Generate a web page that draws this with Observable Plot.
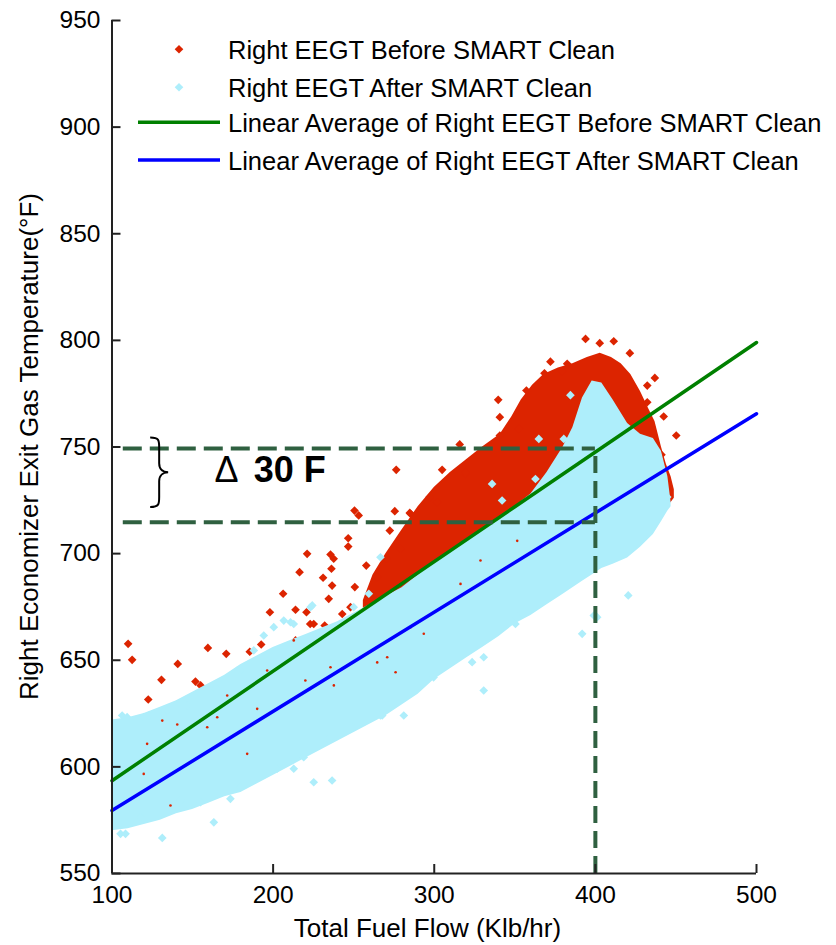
<!DOCTYPE html>
<html>
<head>
<meta charset="utf-8">
<script src="https://cdn.jsdelivr.net/npm/d3@7"></script>
<script src="https://cdn.jsdelivr.net/npm/@observablehq/plot@0.6"></script>
<style>
  body { margin: 0; background: #fff; }
  #chart { width: 836px; height: 945px; }
</style>
</head>
<body>
<div id="chart"></div>
<script>
// ---------------- data ----------------
const xTicks = [100, 200, 300, 400, 500];
const yTicks = [550, 600, 650, 700, 750, 800, 850, 900, 950];
const seriesNames = [
  "Right EEGT Before SMART Clean",
  "Right EEGT After SMART Clean",
  "Linear Average of Right EEGT Before SMART Clean",
  "Linear Average of Right EEGT After SMART Clean"
];
const xLabel = "Total Fuel Flow (Klb/hr)";
const yLabel = "Right Economizer Exit Gas Temperature(\u00B0F)";

// linear averages (end points)
const fitX = [100, 500];
const fitBeforeY = [593.5, 799.0];
const fitAfterY = [579.5, 765.6];

// dense core of "after" cloud (envelope)
const afterCoreX  = [100,110,120,130,140,150,160,170,180,190,200,210,220,230,240,250,260,270,280,290,300,310,320,330,340,350,360,370,380,386,392,398,404,411,420,428,436,441,445,447];
const afterCoreHi = [622,623,625,628,631,635,639,643,648,652,656,659,662,665,668,672,676,680,684,690,696,701,706,711,716,722,728,738,750,759,773,781,780,772,761,756,754,748,736,724];
const afterCoreLo = [570,571,573,575,578,580,583,586,588,592,596,600,604,608,612,616,620,624,629,634,641,646,651,656,661,667,671,676,681,684,687,690,693,695,698,703,709,715,720,722];

// dense core of "before" cloud
const beforeCoreX  = [256,262,270,279,290,300,310,320,330,341,348,354,361,368,377,386,395,403,410,416,422,428,433,437,441,444,447,449];
const beforeCoreHi = [678,690,700,710,722,731,738,744,750,756,764,772,779,784,787,789,792,794,792,789,784,776,768,762,750,742,736,730];
const beforeCoreLo = [655,660,665,668,672,676,682,688,694,700,705,708,712,716,720,724,728,732,730,728,726,724,722,722,722,722,724,726];

// individual "before" points
const beforePtsX = [110.0,112.5,122.5,130.7,140.8,151.8,155.0,157.4,159.5,170.9,185.5,192.6,198.0,206.2,213.9,166.3,148.3,220.7,223.0,232.0,248.0,254.0,
  276.4,250.5,253.1,275.5,285.3,272.4,246.6,246.6,221.1,235.6,237.6,257.8,216.4,231.0,236.2,250.7,236.6,234.5,264.6,279.0,270.5,
  304.9,319.4,213.9,225.2,242.9,253.2,229.4,235.6,
  393.9,402.7,411.4,421.4,372.1,382.5,368.4,379.4,357.2,339.7,340.7,340.7,352.5,436.9,432.2,442.4,450.2,432.2,441.0,443.5,435.3,315.8,301.8,297.2,319.4,284.8];
const beforePtsY = [657.7,650.2,631.6,640.8,648.3,640.0,638.2,630.8,655.8,653.0,654.0,657.4,672.5,681.2,673.7,615.5,622.5,672.5,667.0,666.3,674.9,666.3,
  739.3,720.2,717.9,719.9,718.7,710.8,707.2,703.3,699.9,699.6,697.6,694.4,691.3,688.7,692.9,684.3,685.0,678.8,689.0,702.3,697.6,
  739.3,737.4,659.3,667.0,671.7,664.0,657.7,648.3,
  800.7,798.7,799.6,794.0,790.0,789.0,784.6,785.5,776.5,772.1,764.0,755.4,758.5,782.4,778.8,764.3,755.4,771.0,746.4,733.5,724.9,751.2,724.1,726.5,738.2,719.1];

// "before" points mostly hidden under the after cloud (only specks show)
const beforeSpeckX = [131.2,140.5,147.7,165.3,171.5,190.1,183.9,136.3,196.3,212.8,119.7,159.1,121.8,235.6,220.0,237.7,270.8,276.0,264.6,293.5,285.3,351.5,316.3,328.7];
const beforeSpeckY = [621.7,619.9,628.8,623.3,633.5,627.2,606.1,581.9,645.2,659.3,596.7,618.6,610.8,646.7,640.5,638.2,651.4,644.4,649.0,662.4,665.5,706.0,685.8,696.8];

// individual "after" points
const afterPtsX = [131.2,163.2,225.2,236.6,281.1,212.8,266.6,164.4,133.2,119.7,223.2,206.6,330.7,391.8,330.7,323.5,399.0,420.4,401.1,350.4,444.6,
  364.9,380.4,384.5,362.8,342.1,335.9,350.4,
  266.6,259.4,250.0,241.8,224.3,212.8,281.1,194.2,200.4,210.8,177.7,109.4,132.2,105.3,351.5,299.6,
  108.4,117.7,142.5,154.9,173.5,179.7,202.5,219.0,234.5,267.7,250.0,
  106.3,122.8,134.3,146.7,179.7,188.0];
const afterPtsY = [566.7,574.0,592.8,593.6,624.1,599.1,624.1,636.6,626.4,623.3,674.9,668.6,635.8,662.4,651.4,649.1,671.0,680.4,670.2,667.0,726.5,
  753.8,753.8,774.3,735.0,724.9,732.7,719.4,
  698.3,681.2,674.9,667.0,675.7,667.0,666.3,661.6,665.5,667.8,645.2,623.3,624.9,568.6,670.2,642.0,
  568.6,576.4,584.2,583.4,585.0,590.5,599.1,604.5,613.2,624.1,618.6,
  624.1,624.1,626.4,628.8,645.2,654.6];

// reference guides
const guideStartX = 107;
const guideLevels = [749.3, 714.7];
const guideX = 400;
const braceTop = 754.2, braceBottom = 721.6, braceX = 124;
const annotDelta = {x: 171, y: 739, text: "\u0394"};
const annotValue = {x: 188, y: 739, text: "30 F"};

// ---------------- styles ----------------
const RED = "#dc2400";
const LIGHT = "#aeeefb";
const GREEN = "#008000";
const BLUE = "#0000ff";
const GUIDE = "#2f6040";
const AXIS = "#222";
const FONT = "'Liberation Sans', Arial, Helvetica, sans-serif";

const W = 836, H = 945, ML = 111.5, MR = 80, MT = 20, MB = 72, TICK = 9;
const xDomain = [xTicks[0], xTicks[xTicks.length - 1]];
const yDomain = [yTicks[0], yTicks[yTicks.length - 1]];
// tick length expressed in data units (from the layout)
const tickLenX = TICK * (xDomain[1] - xDomain[0]) / (W - ML - MR);
const tickLenY = TICK * (yDomain[1] - yDomain[0]) / (H - MT - MB);

const zip = (xs, ys) => xs.map((x, i) => ({x, y: ys[i]}));
const afterCore = afterCoreX.map((x, i) => ({x, lo: afterCoreLo[i], hi: afterCoreHi[i]}));
const beforeCore = beforeCoreX.map((x, i) => ({x, lo: beforeCoreLo[i], hi: beforeCoreHi[i]}));
const beforePts = zip(beforePtsX, beforePtsY);
const beforeSpecks = zip(beforeSpeckX, beforeSpeckY);
const afterPts = zip(afterPtsX, afterPtsY);
const fitBefore = zip(fitX, fitBeforeY);
const fitAfter = zip(fitX, fitAfterY);
const hGuides = guideLevels.map(y => ({y, x1: guideStartX, x2: guideX}));
const vGuides = [{x: guideX, y1: yDomain[0], y2: guideLevels[0]}];
const xTickMarks = xTicks.map(x => ({x, y1: yDomain[0], y2: yDomain[0] + tickLenY}));
const yTickMarks = yTicks.map(y => ({y, x1: xDomain[0], x2: xDomain[0] + tickLenX}));

const chart = Plot.plot({
  width: W,
  height: H,
  marginLeft: ML,
  marginRight: MR,
  marginTop: MT,
  marginBottom: MB,
  style: {fontFamily: FONT, fontSize: "24.5px", color: "#000", background: "#fff", overflow: "visible"},
  x: {domain: xDomain},
  y: {domain: yDomain},
  marks: [
    Plot.areaY(beforeCore, {x: "x", y1: "lo", y2: "hi", fill: RED}),
    Plot.dot(beforePts, {x: "x", y: "y", symbol: "diamond2", r: 3.9, fill: RED}),
    Plot.areaY(afterCore, {x: "x", y1: "lo", y2: "hi", fill: LIGHT}),
    Plot.dot(beforeSpecks, {x: "x", y: "y", r: 1.3, fill: RED}),
    Plot.dot(afterPts, {x: "x", y: "y", symbol: "diamond2", r: 3.9, fill: LIGHT}),
    Plot.line(fitBefore, {x: "x", y: "y", stroke: GREEN, strokeWidth: 3.5}),
    Plot.line(fitAfter, {x: "x", y: "y", stroke: BLUE, strokeWidth: 3.5}),
    Plot.ruleY(hGuides, {y: "y", x1: "x1", x2: "x2", stroke: GUIDE, strokeWidth: 4, strokeDasharray: "19,8"}),
    Plot.ruleX(vGuides, {x: "x", y1: "y1", y2: "y2", stroke: GUIDE, strokeWidth: 4, strokeDasharray: "17,8"}),
    // axis lines
    Plot.ruleX([{x: xDomain[0]}], {x: "x", stroke: AXIS, strokeWidth: 2}),
    Plot.ruleY([{y: yDomain[0]}], {y: "y", stroke: AXIS, strokeWidth: 2}),
    // inward tick marks
    Plot.ruleX(xTickMarks, {x: "x", y1: "y1", y2: "y2", stroke: AXIS, strokeWidth: 2}),
    Plot.ruleY(yTickMarks, {y: "y", x1: "x1", x2: "x2", stroke: AXIS, strokeWidth: 2}),
    Plot.axisX({ticks: xTicks, tickSize: 0, tickPadding: 12, label: null, fontSize: 24.5}),
    Plot.axisY({ticks: yTicks, tickSize: 0, tickPadding: 11.5, label: null, fontSize: 24.5}),
    Plot.text([annotDelta], {x: "x", y: "y", text: "text", fontSize: 36, fontWeight: "normal", fill: "#000"}),
    Plot.text([annotValue], {x: "x", y: "y", text: "text", fontSize: 36, fontWeight: "bold", textAnchor: "start", fill: "#000"})
  ]
});

document.getElementById("chart").appendChild(chart);

const svg = d3.select(chart);
const sx = chart.scale("x"), sy = chart.scale("y");

// brace
{
  const x0 = sx.apply(braceX), y1 = sy.apply(braceTop), y2 = sy.apply(braceBottom);
  const ym = (y1 + y2) / 2, q = 9, w = 18;
  const d = `M${x0},${y1} C${x0+q},${y1} ${x0+q},${y1+3} ${x0+q},${y1+10} L${x0+q},${ym-9} C${x0+q},${ym-2} ${x0+w-4},${ym} ${x0+w},${ym} C${x0+w-4},${ym} ${x0+q},${ym+2} ${x0+q},${ym+9} L${x0+q},${y2-10} C${x0+q},${y2-3} ${x0+q},${y2} ${x0},${y2}`;
  svg.append("path").attr("d", d).attr("fill", "none").attr("stroke", "#000").attr("stroke-width", 2);
}

// axis titles
svg.append("text").attr("x", 427.5).attr("y", 937).attr("text-anchor", "middle")
  .attr("font-family", FONT).attr("font-size", 26).attr("fill", "#000").text(xLabel);
svg.append("text").attr("transform", "translate(38,446.5) rotate(-90)").attr("text-anchor", "middle")
  .attr("font-family", FONT).attr("font-size", 26).attr("fill", "#000").text(yLabel);

// legend
const legendRows = [
  {label: seriesNames[0], kind: "dot", color: RED, y: 49.3},
  {label: seriesNames[1], kind: "dot", color: LIGHT, y: 87.3},
  {label: seriesNames[2], kind: "line", color: GREEN, y: 122.3},
  {label: seriesNames[3], kind: "line", color: BLUE, y: 160}
];
const lg = svg.append("g").attr("text-anchor", "start");
legendRows.forEach(r => {
  if (r.kind === "dot") {
    lg.append("path").attr("d", `M179,${r.y-4.3} L183.3,${r.y} L179,${r.y+4.3} L174.7,${r.y} Z`).attr("fill", r.color);
  } else {
    lg.append("line").attr("x1", 138).attr("x2", 220).attr("y1", r.y).attr("y2", r.y)
      .attr("stroke", r.color).attr("stroke-width", 3.5);
  }
  lg.append("text").attr("x", 228).attr("y", r.y + 9.5).attr("text-anchor", "start").attr("font-family", FONT)
    .attr("font-size", 25.5).attr("fill", "#000").text(r.label);
});
</script>
</body>
</html>
